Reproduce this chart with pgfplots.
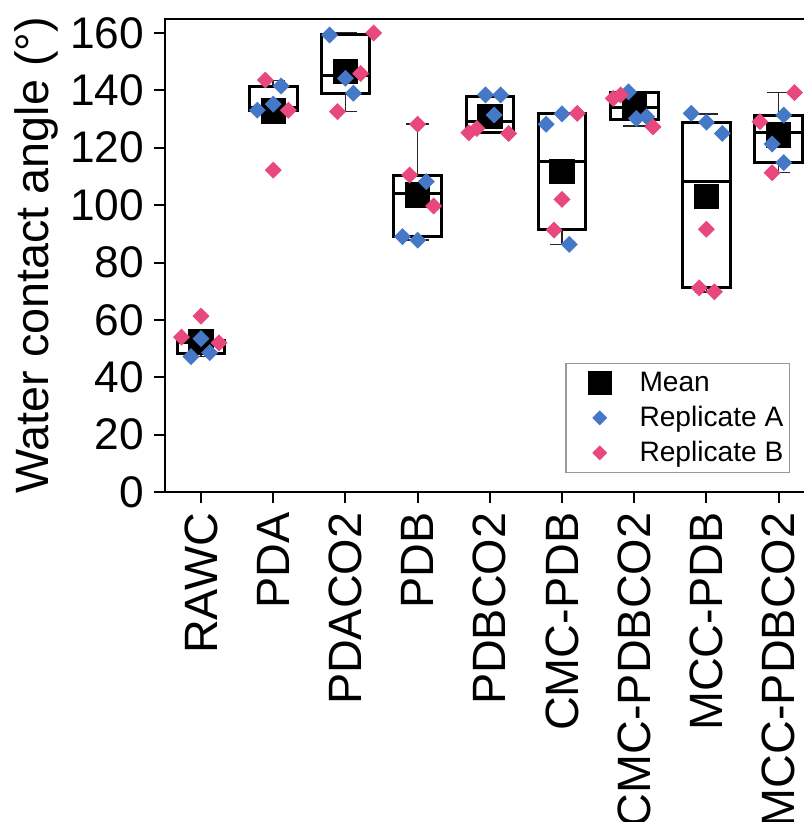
\documentclass[border=0pt]{standalone}
\usepackage{fontspec}
\setmainfont{Liberation Sans}
\usepackage{pgfplots}
\pgfplotsset{compat=1.18}
\usepgfplotslibrary{statistics}
\definecolor{repA}{RGB}{70,120,200}
\definecolor{repB}{RGB}{232,72,125}
\begin{document}
\begin{tikzpicture}
\begin{axis}[
  x=7.22mm, y=0.2869mm,
  xmin=-0.5, xmax=8.5, ymin=0, ymax=165,
  clip=false,
  axis line style={line width=0.2mm},
  tick style={line width=0.2mm, black},
  major tick length=1.1mm,
  tick align=outside,
  xtick pos=lower, ytick pos=left,
  xtick={0,1,2,3,4,5,6,7,8},
  xticklabels={RAWC,PDA,PDACO2,PDB,PDBCO2,CMC-PDB,CMC-PDBCO2,MCC-PDB,MCC-PDBCO2},
  ytick={0,20,40,60,80,100,120,140,160},
  /pgf/number format/assume math mode=true,
  yticklabel style={font=\fontsize{12.6}{14}\selectfont, inner sep=0.9mm},
  xticklabel style={rotate=90, anchor=east, font=\fontsize{13.3}{15}\selectfont, inner sep=0.9mm},
  ylabel={Water contact angle (°)},
  ylabel style={at={(axis description cs:-0.1784,0.5)}, anchor=base, font=\fontsize{13.3}{15}\selectfont},
  boxplot/draw direction=y,
  boxplot/every box/.style={line width=0.3mm},
  boxplot/every median/.style={line width=0.3mm},
  boxplot/every whisker/.style={line width=0.15mm, black!85},
  legend image code/.code={\path (0cm,0cm) (0.66cm,0cm);
    \draw[mark repeat=2,mark phase=2,#1] plot coordinates {(0cm,0cm) (0.3cm,0cm) (0.6cm,0cm)};},
  legend style={at={(0.962,0.040)}, anchor=south east, draw=gray!80, line width=0.15mm,
    font=\fontsize{8}{9}\selectfont, cells={anchor=west},
    inner xsep=0.3mm, inner ysep=0.2mm, row sep=0pt,
    nodes={text height=2.2mm, text depth=0.5mm, inner ysep=0.4mm, inner xsep=0.3mm}},
]
% boxes
\addplot[forget plot, black, boxplot prepared={draw position=0, lower whisker=47.2, lower quartile=48.4, median=52.2, upper quartile=52.9, upper whisker=53.5, box extend=0.66, whisker extend=0.32}] coordinates {};
\addplot[forget plot, black, boxplot prepared={draw position=1, lower whisker=133.1, lower quartile=133.1, median=134.0, upper quartile=141.3, upper whisker=143.5, box extend=0.66, whisker extend=0.32}] coordinates {};
\addplot[forget plot, black, boxplot prepared={draw position=2, lower whisker=132.6, lower quartile=139.0, median=145.2, upper quartile=159.3, upper whisker=160.0, box extend=0.66, whisker extend=0.32}] coordinates {};
\addplot[forget plot, black, boxplot prepared={draw position=3, lower whisker=87.8, lower quartile=89.0, median=103.9, upper quartile=110.5, upper whisker=128.2, box extend=0.66, whisker extend=0.32}] coordinates {};
\addplot[forget plot, black, boxplot prepared={draw position=4, lower whisker=125.0, lower quartile=125.2, median=129.2, upper quartile=137.9, upper whisker=138.4, box extend=0.66, whisker extend=0.32}] coordinates {};
\addplot[forget plot, black, boxplot prepared={draw position=5, lower whisker=86.3, lower quartile=91.4, median=115.1, upper quartile=131.8, upper whisker=132.0, box extend=0.66, whisker extend=0.32}] coordinates {};
\addplot[forget plot, black, boxplot prepared={draw position=6, lower whisker=127.5, lower quartile=130.0, median=134.0, upper quartile=139.3, upper whisker=139.5, box extend=0.66, whisker extend=0.32}] coordinates {};
\addplot[forget plot, black, boxplot prepared={draw position=7, lower whisker=69.8, lower quartile=71.2, median=108.4, upper quartile=128.8, upper whisker=131.8, box extend=0.66, whisker extend=0.32}] coordinates {};
\addplot[forget plot, black, boxplot prepared={draw position=8, lower whisker=111.3, lower quartile=114.8, median=125.2, upper quartile=131.4, upper whisker=139.2, box extend=0.66, whisker extend=0.32}] coordinates {};
% means
\addplot[only marks, mark=square*, mark size=1.2mm, black, legend image post style={mark size=1.15mm}] coordinates {
(0,52.3) (1,132.8) (2,146.6) (3,103.6) (4,130.8) (5,111.8) (6,134.2) (7,103.1) (8,124.4)};
\addlegendentry{Mean}
% replicate A
\addplot[only marks, mark=square*, mark size=0.53mm, mark options={rotate=45}, draw=none, fill=repA, color=repA, legend image post style={mark size=0.45mm}] coordinates {
(0.00,53.5) (-0.14,47.2) (0.12,48.6)
(1.11,141.5) (0.78,133.1) (1.00,135.2)
(1.78,159.3) (2.11,139.0) (2.00,144.2)
(3.12,108.2) (2.79,89.0) (3.00,87.8)
(3.94,138.4) (4.15,138.4) (4.06,131.4)
(4.78,128.2) (5.00,131.8) (5.10,86.3)
(5.92,139.5) (6.03,130.2) (6.17,130.8)
(6.79,132.0) (7.00,128.9) (7.22,125.0)
(8.07,131.4) (7.91,121.3) (8.07,114.8)};
\addlegendentry{Replicate A}
% replicate B
\addplot[only marks, mark=square*, mark size=0.53mm, mark options={rotate=45}, draw=none, fill=repB, color=repB, legend image post style={mark size=0.45mm}] coordinates {
(0.00,61.3) (-0.27,54.0) (0.25,52.0)
(0.89,143.6) (1.21,133.1) (1.00,112.2)
(1.89,132.6) (2.21,145.9) (2.39,160.0)
(3.00,128.2) (2.89,110.5) (3.22,99.7)
(3.71,125.2) (3.82,126.7) (4.26,125.0)
(5.21,132.0) (5.00,102.0) (4.89,91.3)
(5.71,137.2) (5.81,138.4) (6.26,127.3)
(7.00,91.6) (6.90,71.2) (7.11,69.8)
(8.22,139.2) (7.74,129.1) (7.91,111.3)};
\addlegendentry{Replicate B}
\coordinate (pbl) at (axis cs:-2.784,-115.0);
\coordinate (ptr) at (axis cs:8.338,171.5);
\end{axis}
\pgfresetboundingbox
\useasboundingbox (pbl) rectangle (ptr);
\end{tikzpicture}
\end{document}
